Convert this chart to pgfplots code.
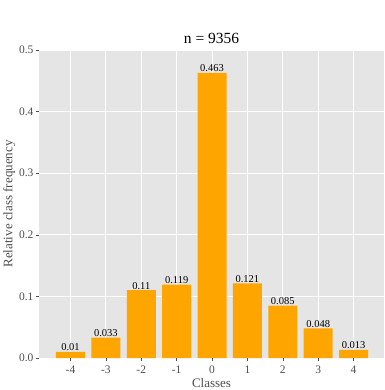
\documentclass[border=0pt]{standalone}
\usepackage{pgfplots}
\pgfplotsset{compat=1.18}
\usepackage{fontspec}
\setmainfont{Liberation Serif}
\definecolor{panel}{HTML}{E5E5E5}
\definecolor{ticktext}{HTML}{4D4D4D}
\definecolor{barc}{HTML}{FFA500}
\begin{document}
\begin{tikzpicture}
\begin{axis}[
  name=ax,
  scale only axis,
  width=345pt, height=308pt,
  xmin=-4.89, xmax=4.86,
  ymin=0, ymax=0.5,
  axis background/.style={fill=panel},
  axis line style={draw=none},
  xtick={-4,-3,-2,-1,0,1,2,3,4},
  ytick={0,0.1,0.2,0.3,0.4,0.5},
  yticklabel style={xshift=1pt, /pgf/number format/fixed, /pgf/number format/fixed zerofill, /pgf/number format/precision=1},
  /pgf/number format/assume math mode=true,
  ticklabel style={font=\fontsize{11.5}{12}\selectfont, text=ticktext},
  xticklabel style={yshift=-1pt},
  tick style={draw=ticktext, line width=0.5pt},
  tick align=outside,
  major tick length=3pt,
  xtick pos=bottom, ytick pos=left,
  grid=major,
  major grid style={draw=white, line width=0.9pt},
  title={n = 9356},
  title style={font=\fontsize{15.5}{16}\selectfont, yshift=-3pt},
  xlabel={Classes},
  ylabel={Relative class frequency},
  label style={font=\fontsize{13}{14}\selectfont, text=ticktext},
  xlabel style={yshift=2pt},
  ylabel style={yshift=-3pt},
  clip=false,
]
\addplot[ybar, bar width=0.82, fill=barc, draw=none,
  nodes near coords, point meta=explicit symbolic,
  every node near coord/.append style={font=\fontsize{10.5}{11}\selectfont, text=black, yshift=-2.5pt}]
  table[meta=lab] {
x y lab
-4 0.010 0.01
-3 0.033 0.033
-2 0.110 0.11
-1 0.119 0.119
0 0.463 0.463
1 0.121 0.121
2 0.085 0.085
3 0.048 0.048
4 0.013 0.013
};
\end{axis}
\pgfresetboundingbox
\path ([xshift=-39pt,yshift=-32pt]ax.south west) rectangle ([yshift=50pt]ax.north east);
\end{tikzpicture}
\end{document}
